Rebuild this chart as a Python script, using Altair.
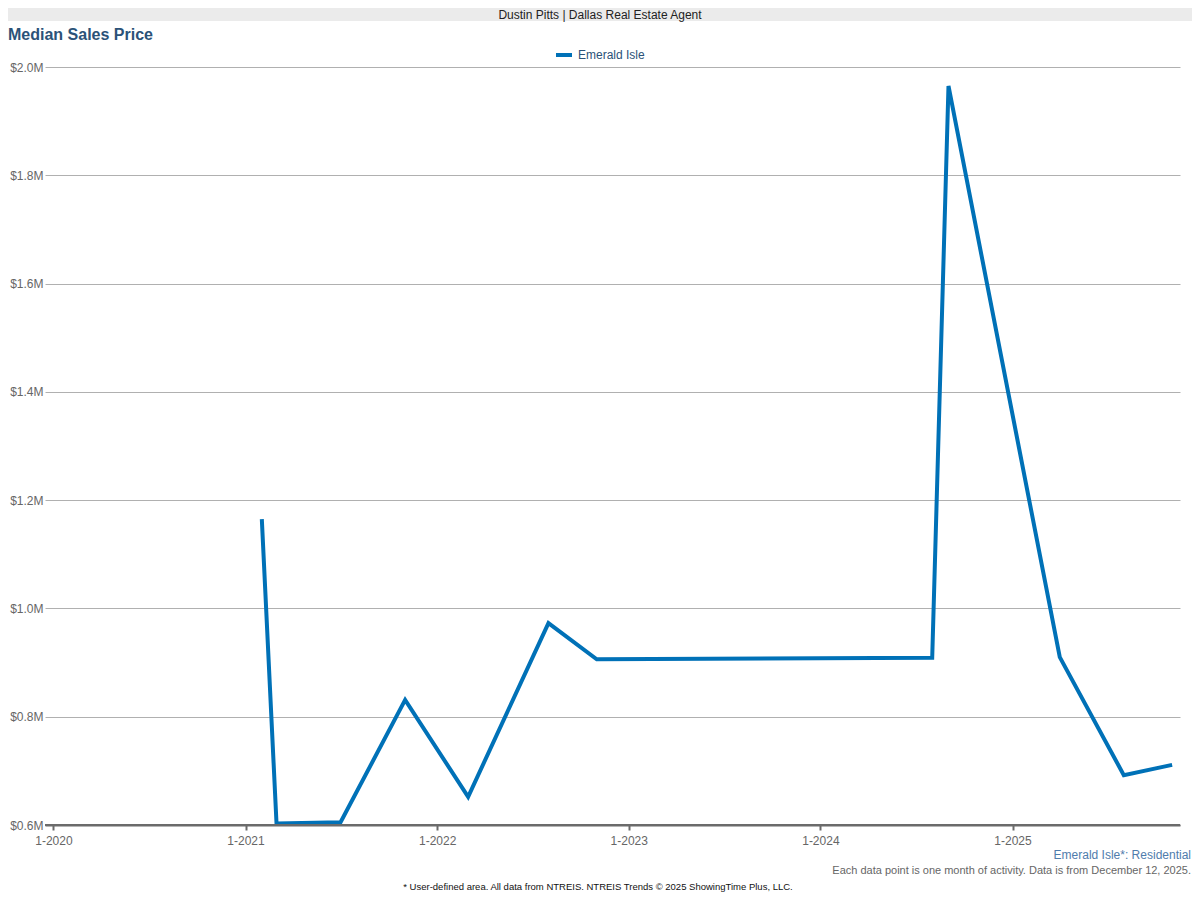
import altair as alt
import pandas as pd

# ---- data ----
months = ["2021-02-01", "2021-03-01", "2021-07-01", "2021-11-01", "2022-03-01",
          "2022-08-01", "2022-11-01", "2024-08-01", "2024-09-01", "2025-04-01",
          "2025-08-01", "2025-11-01"]
prices = [1165000, 603000, 605000, 831000, 652000,
          973000, 906000, 909000, 1965000, 910000,
          692000, 711000]
series_name = "Emerald Isle"
y_ticks = [600000, 800000, 1000000, 1200000, 1400000, 1600000, 1800000, 2000000]

df = pd.DataFrame({"month": months, "price": prices, "series": [series_name] * len(months)})

FONT = "Liberation Sans"
W, H = 1135, 758
PAD = {"left": 37, "top": 59, "right": 12, "bottom": 67}

line = alt.Chart(df).mark_line(strokeWidth=4, strokeJoin="miter").encode(
    x=alt.X("month:T",
            scale=alt.Scale(domain=[alt.DateTime(year=2019, month=12, date=16),
                                    alt.DateTime(year=2025, month=11, date=16)]),
            axis=alt.Axis(title=None, format="%-m-%Y", tickCount={"interval": "year", "step": 1},
                          grid=False, domainColor="#6b6b6b", domainWidth=2,
                          tickColor="#6b6b6b", tickWidth=2, tickSize=5,
                          labelColor="#666666", labelFont=FONT, labelFontSize=12,
                          labelPadding=5)),
    y=alt.Y("price:Q",
            scale=alt.Scale(domain=[600000, 2000000], nice=False, zero=False),
            axis=alt.Axis(title=None, values=y_ticks,
                          labelExpr="'$' + format(datum.value / 1000000, '.1f') + 'M'",
                          domain=False, ticks=False, tickSize=0,
                          gridColor="#b0b0b0", gridWidth=1,
                          labelColor="#666666", labelFont=FONT, labelFontSize=12,
                          labelPadding=2)),
    color=alt.Color("series:N", scale=alt.Scale(range=["#0071b7"]),
                    legend=alt.Legend(title=None, orient="none", legendX=509, legendY=-22,
                                      symbolType="stroke", symbolStrokeWidth=4, symbolSize=256,
                                      labelColor="#2b5278", labelFont=FONT, labelFontSize=12,
                                      labelOffset=4, padding=0)),
)

# bottom axis line drawn over the gridline at 0.6M
base_rule = alt.Chart(df).mark_rule(color="#6b6b6b", strokeWidth=2).encode(
    x=alt.value(0), x2=alt.value(W), y=alt.value(H))

banner = alt.Chart(df).mark_rect(color="#ebebeb").encode(
    x=alt.value(-37), x2=alt.value(W + 12), y=alt.value(-59), y2=alt.value(-46))

def label(text, x, y, size, color, align="left", weight="normal"):
    return alt.Chart(pd.DataFrame({"t": [text]})).mark_text(
        align=align, baseline="middle", font=FONT, fontSize=size, color=color,
        fontWeight=weight).encode(text="t:N", x=alt.value(x), y=alt.value(y))

texts = [
    label("Dustin Pitts | Dallas Real Estate Agent", 555, -52.5, 12, "#222222", "center"),
    label("Median Sales Price", -37, -32, 16, "#2b5278", "left", "bold"),
    label("Emerald Isle*: Residential", 1146, 788, 12, "#4f7cac", "right"),
    label("Each data point is one month of activity. Data is from December 12, 2025.",
          1146, 804, 11, "#666666", "right"),
    label("* User-defined area. All data from NTREIS. NTREIS Trends \u00a9 2025 ShowingTime Plus, LLC.",
          553, 820, 9.5, "#111111", "center"),
]

chart = alt.layer(banner, line, base_rule, *texts).properties(
    width=W, height=H, padding=PAD,
    autosize=alt.AutoSizeParams(type="none"),
    background="white",
).configure_view(stroke=None)

chart.save("out.html", embed_options={"renderer": "svg", "actions": False})
